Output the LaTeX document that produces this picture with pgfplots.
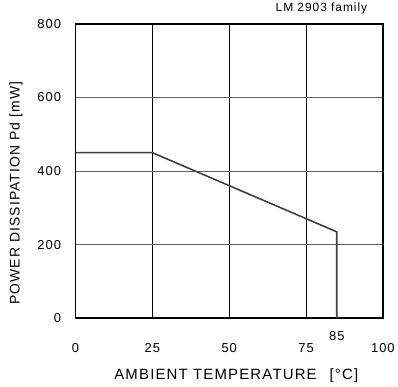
\documentclass[border=0pt]{standalone}
\usepackage{fontspec}
\setmainfont{Liberation Sans}[LetterSpace=8]
\usepackage{pgfplots}
\pgfplotsset{compat=1.18}
\definecolor{linegray}{HTML}{404040}
\definecolor{gridgray}{HTML}{606060}
\begin{document}
\begin{tikzpicture}
\begin{axis}[
    scale only axis,
    width=309pt, height=296pt,
    xmin=0, xmax=100, ymin=0, ymax=800,
    xtick={0,25,50,75,100},
    ytick={0,200,400,600,800},
    major tick length=0pt,
    axis line style={line width=1.6pt},
    xmajorgrids, ymajorgrids,
    x grid style={black, line width=0.8pt},
    y grid style={gridgray, line width=1pt},
    /pgf/number format/assume math mode=true,
    tick label style={font=\fontsize{13}{15}\selectfont},
    xticklabel shift=22pt,
    yticklabel shift=11pt,
    extra x ticks={85},
    extra x tick style={grid=none, xticklabel shift=10pt},
    xlabel={AMBIENT TEMPERATURE\hspace{13pt}[°C]},
    ylabel={POWER DISSIPATION Pd [mW]},
    xlabel style={font=\fontsize{15}{17}\selectfont, at={(axis description cs:0.523,-0.195)}, anchor=center},
    ylabel style={font=\fontsize{14}{16}\selectfont, at={(axis description cs:-0.194,0.425)}, anchor=center},
    title={LM 2903 family},
    title style={font=\fontsize{12}{14}\selectfont, at={(rel axis cs:0.80,1)}, anchor=south, yshift=0pt},
]
\addplot[linegray, line width=1.6pt] coordinates {
(0,450) (25,450) (85,235) (85,0)
};
\end{axis}
\path (current axis.south west) ++(-76pt,-69pt) rectangle ++(398pt,389pt);
\end{tikzpicture}
\end{document}
